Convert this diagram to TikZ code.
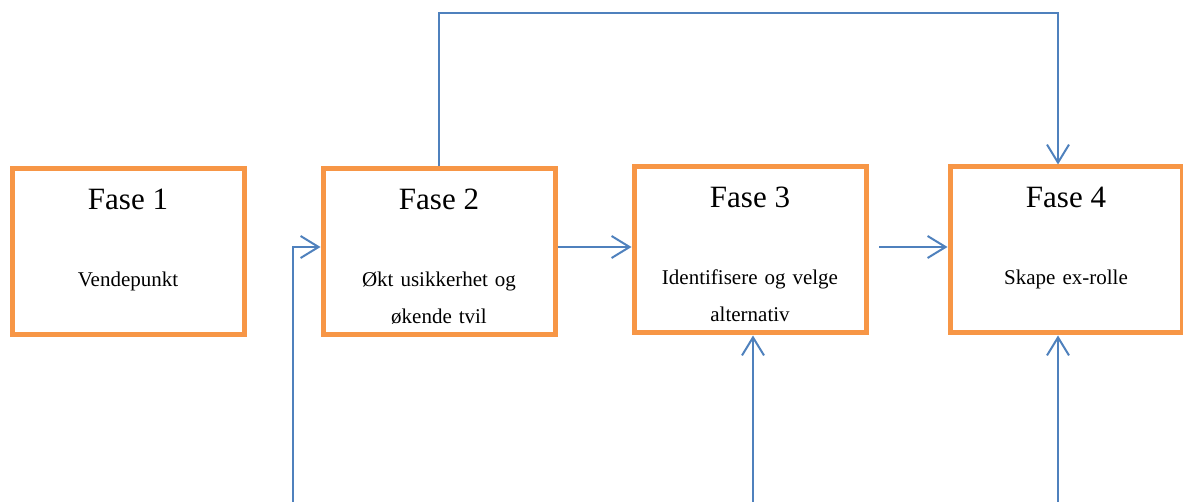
\documentclass[tikz,border=0pt]{standalone}
\usepackage{fontspec}
\setmainfont{Liberation Serif}
\usetikzlibrary{arrows.meta}
\definecolor{faseorange}{HTML}{F79646}
\definecolor{pilblue}{HTML}{4F81BD}
\begin{document}
\begin{tikzpicture}[x=1pt,y=-1pt,
    fase/.style={draw=faseorange,line width=5pt,minimum width=232pt,minimum height=166pt},
    title/.style={anchor=base,font=\fontsize{31}{37}\selectfont},
    desc/.style={anchor=base,text width=232pt,align=center,font=\fontsize{21}{37}\selectfont},
    link/.style={draw=pilblue,line width=2pt,-{Straight Barb[length=18pt,width=22pt]}},
    wire/.style={draw=pilblue,line width=2pt}]
  \useasboundingbox (0,0) rectangle (1183,502);
  % Boxes
  \node[fase] (f1) at (128,252) {};
  \node[fase] (f2) at (439,252) {};
  \node[fase] (f3) at (750,250) {};
  \node[fase] (f4) at (1066,250) {};
  % Texts
  \node[title] (t1) at (128,210) {Fase 1};
  \node[desc] (d1) at (128,287) {Vendepunkt};
  \node[title] (t2) at (439,210) {Fase 2};
  \node[desc] (d2) at (439,287) {Økt usikkerhet og\\økende tvil};
  \node[title] (t3) at (750,208) {Fase 3};
  \node[desc] (d3) at (750,285) {Identifisere og velge\\alternativ};
  \node[title] (t4) at (1066,208) {Fase 4};
  \node[desc] (d4) at (1066,285) {Skape ex-rolle};
  % Loose ends
  \coordinate (o3) at (879,247);
  \coordinate (up4) at (1058,13);
  \coordinate (b2) at (293,503);
  \coordinate (b3) at (753,503);
  \coordinate (b4) at (1058,503);
  % Connectors
  \draw[link] (f2.east |- o3) -- (f3.west |- o3);
  \draw[link] (o3) -- (f4.west |- o3);
  \draw[link] (f2.north) |- (up4) -- (up4 |- f4.north);
  \draw[link] (b2) |- (f2.west |- o3);
  \draw[link] (b3) -- (b3 |- f3.south);
  \draw[link] (b4) -- (b4 |- f4.south);
  \draw[wire] (b2) -- (b4);
\end{tikzpicture}
\end{document}
